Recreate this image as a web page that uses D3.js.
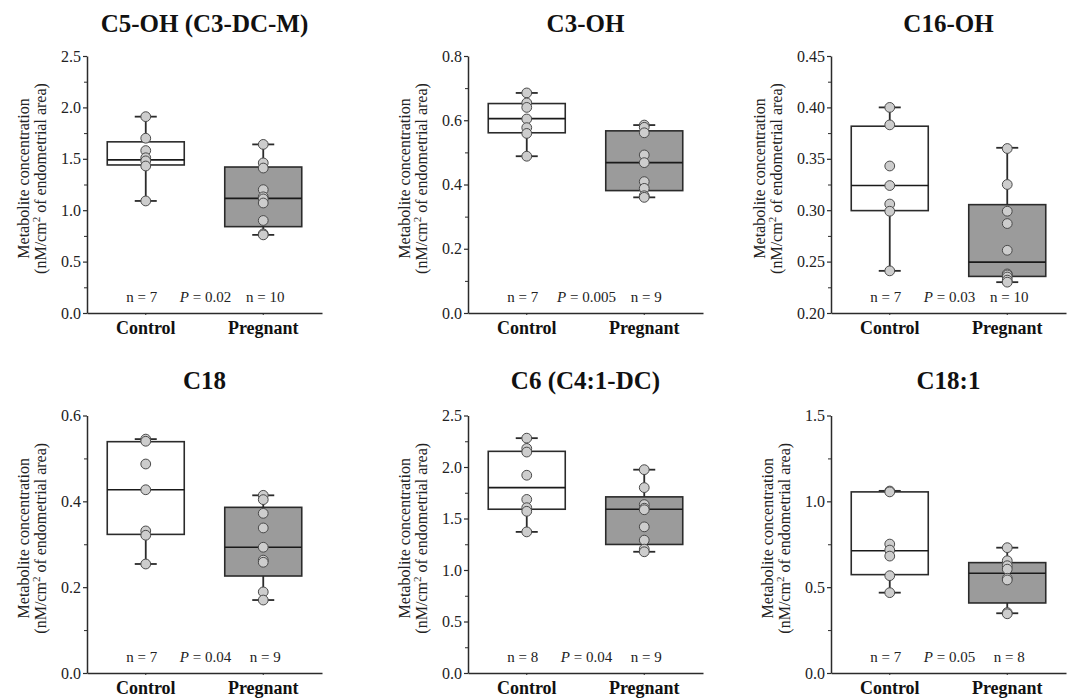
<!DOCTYPE html>
<html><head><meta charset="utf-8">
<script src="https://cdn.jsdelivr.net/npm/d3@7"></script>
<style>
html,body{margin:0;padding:0;background:#fff;}
</style></head>
<body><svg id="chart" width="1072" height="700"></svg>
<script>
// ---- data ----
const titles = ["C5-OH (C3-DC-M)", "C3-OH", "C16-OH", "C18", "C6 (C4:1-DC)", "C18:1"];
const groups = ["Control", "Pregnant"];
const yMin = [0, 0, 0.20, 0, 0, 0];
const yMax = [2.5, 0.8, 0.45, 0.6, 2.5, 1.5];
const majorStep = [0.5, 0.2, 0.05, 0.2, 0.5, 0.5];
const tickDecimals = [1, 1, 2, 1, 1, 1];
const nControl = [7, 7, 7, 7, 8, 7];
const nPregnant = [10, 9, 10, 9, 9, 8];
const pValues = ["0.02", "0.005", "0.03", "0.04", "0.04", "0.05"];

// individual points
const c5ohControl = [1.91, 1.70, 1.58, 1.51, 1.48, 1.43, 1.09];
const c5ohPregnant = [1.64, 1.46, 1.41, 1.20, 1.13, 1.11, 1.07, 0.90, 0.77, 0.76];
const c3ohControl = [0.685, 0.654, 0.640, 0.604, 0.577, 0.559, 0.488];
const c3ohPregnant = [0.585, 0.578, 0.561, 0.492, 0.468, 0.409, 0.388, 0.365, 0.360];
const c16ohControl = [0.400, 0.383, 0.343, 0.324, 0.306, 0.299, 0.241];
const c16ohPregnant = [0.360, 0.325, 0.299, 0.287, 0.261, 0.238, 0.237, 0.235, 0.232, 0.230];
const c18Control = [0.545, 0.540, 0.487, 0.427, 0.331, 0.321, 0.254];
const c18Pregnant = [0.414, 0.404, 0.372, 0.338, 0.293, 0.263, 0.258, 0.189, 0.170];
const c6Control = [2.28, 2.18, 2.145, 1.92, 1.685, 1.605, 1.57, 1.37];
const c6Pregnant = [1.974, 1.80, 1.635, 1.60, 1.585, 1.419, 1.290, 1.203, 1.177];
const c181Control = [1.06, 1.055, 0.751, 0.716, 0.681, 0.567, 0.468];
const c181Pregnant = [0.730, 0.654, 0.625, 0.605, 0.552, 0.542, 0.352, 0.345];

// box stats [min, q1, median, q3, max]
const c5ohControlBox = [1.09, 1.44, 1.49, 1.665, 1.91];
const c5ohPregnantBox = [0.76, 0.84, 1.115, 1.42, 1.64];
const c3ohControlBox = [0.488, 0.561, 0.605, 0.652, 0.685];
const c3ohPregnantBox = [0.360, 0.381, 0.468, 0.567, 0.585];
const c16ohControlBox = [0.241, 0.2996, 0.324, 0.3817, 0.400];
const c16ohPregnantBox = [0.230, 0.2356, 0.2495, 0.3054, 0.3607];
const c18ControlBox = [0.254, 0.323, 0.427, 0.539, 0.545];
const c18PregnantBox = [0.170, 0.226, 0.293, 0.386, 0.414];
const c6ControlBox = [1.37, 1.59, 1.80, 2.152, 2.28];
const c6PregnantBox = [1.177, 1.248, 1.59, 1.71, 1.974];
const c181ControlBox = [0.468, 0.573, 0.712, 1.055, 1.061];
const c181PregnantBox = [0.348, 0.408, 0.581, 0.643, 0.730];

const panelPoints = [
  [c5ohControl, c5ohPregnant], [c3ohControl, c3ohPregnant], [c16ohControl, c16ohPregnant],
  [c18Control, c18Pregnant], [c6Control, c6Pregnant], [c181Control, c181Pregnant]
];
const panelBoxes = [
  [c5ohControlBox, c5ohPregnantBox], [c3ohControlBox, c3ohPregnantBox], [c16ohControlBox, c16ohPregnantBox],
  [c18ControlBox, c18PregnantBox], [c6ControlBox, c6PregnantBox], [c181ControlBox, c181PregnantBox]
];

// ---- layout ----
const axisX = [87, 468, 831];
const rowTop = [56, 415.5];
const rowBottom = [313, 673];
const plotW = 235;
const boxW = 77;
const capHalf = 11;
const boxFill = ["#ffffff", "#9b9b9b"];
const strokeCol = "#2b2b2b";
const serif = '"Liberation Serif","Times New Roman",serif';

const svg = d3.select("#chart").style("font-family", serif);

function txt(sel) { return sel.style("font-family", serif); }

titles.forEach((title, i) => {
  const col = i % 3, row = Math.floor(i / 3);
  const x0 = axisX[col], y0 = rowTop[row], y1 = rowBottom[row];
  const g = svg.append("g");

  const x = d3.scaleBand().domain(groups).range([x0, x0 + plotW]);
  const y = d3.scaleLinear().domain([yMin[i], yMax[i]]).range([y1, y0]);

  const step = majorStep[i];
  const nMaj = Math.round((yMax[i] - yMin[i]) / step);
  const majors = d3.range(nMaj + 1).map(k => +(yMin[i] + k * step).toFixed(4));
  const minors = d3.range(nMaj).map(k => +(yMin[i] + (k + 0.5) * step).toFixed(5));

  // minor ticks
  g.append("g").attr("transform", `translate(${x0},0)`)
    .call(d3.axisLeft(y).tickValues(minors).tickSize(3).tickFormat(""))
    .call(a => a.select(".domain").remove())
    .call(a => a.selectAll("line").attr("stroke", strokeCol).attr("stroke-width", 1));

  // y axis
  const ya = g.append("g").attr("transform", `translate(${x0},0)`)
    .call(d3.axisLeft(y).tickValues(majors).tickSize(4).tickSizeOuter(0).tickPadding(2)
      .tickFormat(d3.format("." + tickDecimals[i] + "f")));
  ya.attr("font-family", null).attr("font-size", null);
  ya.select(".domain").attr("stroke", strokeCol).attr("stroke-width", 1.5);
  ya.selectAll("line").attr("stroke", strokeCol).attr("stroke-width", 1.2);
  txt(ya.selectAll("text").attr("font-size", 16).attr("fill", "#222"));

  // x axis
  const xa = g.append("g").attr("transform", `translate(0,${y1})`)
    .call(d3.axisBottom(x).tickSize(2).tickSizeOuter(0).tickPadding(6));
  xa.attr("font-family", null).attr("font-size", null);
  xa.select(".domain").attr("stroke", strokeCol).attr("stroke-width", 1.5);
  xa.selectAll("line").attr("stroke", strokeCol);
  txt(xa.selectAll("text").attr("font-size", 18).attr("font-weight", "bold").attr("fill", "#111")
    .attr("dy", "0.72em"));

  // y label
  const bb = ya.node().getBBox();
  const lx2 = x0 + bb.x - 15, lx1 = lx2 - 17;
  const ly = (y0 + y1) / 2 - 6;
  txt(g.append("text").attr("transform", `translate(${lx1},${ly}) rotate(-90)`)
    .attr("text-anchor", "middle").attr("font-size", 16).attr("fill", "#222")
    .text("Metabolite concentration"));
  const t2 = txt(g.append("text").attr("transform", `translate(${lx2},${ly}) rotate(-90)`)
    .attr("text-anchor", "middle").attr("font-size", 16).attr("fill", "#222"));
  t2.append("tspan").text("(nM/cm");
  t2.append("tspan").attr("font-size", 11).attr("dy", -6).text("2");
  t2.append("tspan").attr("dy", 6).text(" of endometrial area)");

  // title
  txt(g.append("text").attr("x", x0 + plotW / 2).attr("y", row === 0 ? 32 : 389)
    .attr("text-anchor", "middle").attr("font-size", 25).attr("font-weight", "bold")
    .attr("fill", "#111").text(title));

  // boxes
  groups.forEach((grp, j) => {
    const cx = x(grp) + x.bandwidth() / 2;
    const [mn, q1, md, q3, mx] = panelBoxes[i][j];
    const bg = g.append("g");
    bg.append("line").attr("x1", cx).attr("x2", cx).attr("y1", y(mx)).attr("y2", y(q3))
      .attr("stroke", strokeCol).attr("stroke-width", 1.8);
    bg.append("line").attr("x1", cx).attr("x2", cx).attr("y1", y(q1)).attr("y2", y(mn))
      .attr("stroke", strokeCol).attr("stroke-width", 1.8);
    [mn, mx].forEach(v => bg.append("line").attr("x1", cx - capHalf).attr("x2", cx + capHalf)
      .attr("y1", y(v)).attr("y2", y(v)).attr("stroke", strokeCol).attr("stroke-width", 1.8));
    bg.append("rect").attr("x", cx - boxW / 2).attr("width", boxW)
      .attr("y", y(q3)).attr("height", y(q1) - y(q3))
      .attr("fill", boxFill[j]).attr("stroke", strokeCol).attr("stroke-width", 1.6);
    bg.append("line").attr("x1", cx - boxW / 2).attr("x2", cx + boxW / 2)
      .attr("y1", y(md)).attr("y2", y(md)).attr("stroke", "#1a1a1a").attr("stroke-width", 1.6);
    bg.selectAll("circle").data(panelPoints[i][j]).join("circle")
      .attr("cx", cx).attr("cy", d => y(d)).attr("r", 4.9)
      .attr("fill", "#cdcdcd").attr("stroke", "#4a4a4a").attr("stroke-width", 1);
  });

  // n and P annotations
  const cxC = x(groups[0]) + x.bandwidth() / 2;
  const cxP = x(groups[1]) + x.bandwidth() / 2;
  const ty = y1 - 11;
  txt(g.append("text").attr("x", cxC - 4).attr("y", ty).attr("text-anchor", "middle")
    .attr("font-size", 15).attr("fill", "#222").text("n = " + nControl[i]));
  txt(g.append("text").attr("x", cxP + 2).attr("y", ty).attr("text-anchor", "middle")
    .attr("font-size", 15).attr("fill", "#222").text("n = " + nPregnant[i]));
  const pt = txt(g.append("text").attr("x", (cxC + cxP) / 2 + 1).attr("y", ty).attr("text-anchor", "middle")
    .attr("font-size", 15).attr("fill", "#222"));
  pt.append("tspan").attr("font-style", "italic").text("P");
  pt.append("tspan").text(" = " + pValues[i]);
});
</script></body></html>
